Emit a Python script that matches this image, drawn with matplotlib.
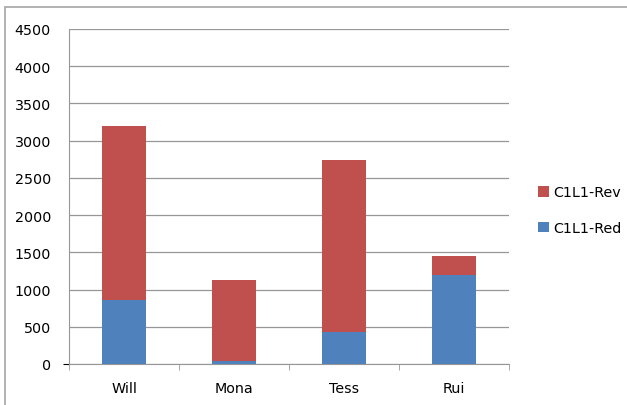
import numpy as np
import matplotlib.pyplot as plt
from matplotlib.patches import Rectangle

names = ['Will', 'Mona', 'Tess', 'Rui']
red_vals = [855, 40, 425, 1195]      # C1L1-Red (bottom)
rev_vals = [2345, 1093, 2311, 251]   # C1L1-Rev (stacked on top)
yticks = np.arange(0, 4501, 500)

blue = '#4F81BD'
red = '#C0504D'
grid_col = '#979797'

plt.rcParams['font.family'] = 'DejaVu Sans'
plt.rcParams['font.size'] = 10.3

fig = plt.figure(figsize=(6.27, 4.06), dpi=100)
# chart area border (right/bottom run off the edge)
fig.patches.append(Rectangle((5 / 627, -0.1), 1.2, (406 - 8) / 406 + 0.1,
                             transform=fig.transFigure, fill=False,
                             edgecolor='#A6A6A6', lw=1.2))

ax = fig.add_axes([69 / 627, 41 / 406, 440 / 627, 335 / 406])
x = np.arange(len(names))
ax.bar(x, red_vals, width=0.4, color=blue, label='C1L1-Red', zorder=3)
ax.bar(x, rev_vals, width=0.4, bottom=red_vals, color=red, label='C1L1-Rev', zorder=3)

ax.set_xlim(-0.5, len(names) - 0.5)
ax.set_ylim(0, 4500)
ax.set_yticks(yticks)
ax.set_xticks(x)
ax.set_xticklabels(names)
ax.set_xticks(np.arange(-0.5, len(names)), minor=True)

ax.yaxis.grid(True, color=grid_col, lw=0.9, zorder=0)
ax.set_axisbelow(True)
for s in ['top', 'right']:
    ax.spines[s].set_visible(False)
ax.spines['left'].set_color(grid_col)
ax.spines['bottom'].set_color(grid_col)

ax.tick_params(axis='y', length=0, pad=13, colors='black')
ax.yaxis.get_major_ticks()[0].tick1line.set_markersize(4.5)
ax.yaxis.get_major_ticks()[0].tick1line.set_color(grid_col)
ax.tick_params(axis='x', which='major', length=0, pad=12)
ax.tick_params(axis='x', which='minor', length=4, color=grid_col, direction='out')

handles, labels = ax.get_legend_handles_labels()
fig.legend(handles[::-1], labels[::-1], loc='center left',
           bbox_to_anchor=(531 / 627, 1 - 211 / 406), frameon=False,
           handlelength=0.75, handleheight=0.75, handletextpad=0.3,
           labelspacing=1.5, borderpad=0)

fig.savefig('out.png', dpi=100)
